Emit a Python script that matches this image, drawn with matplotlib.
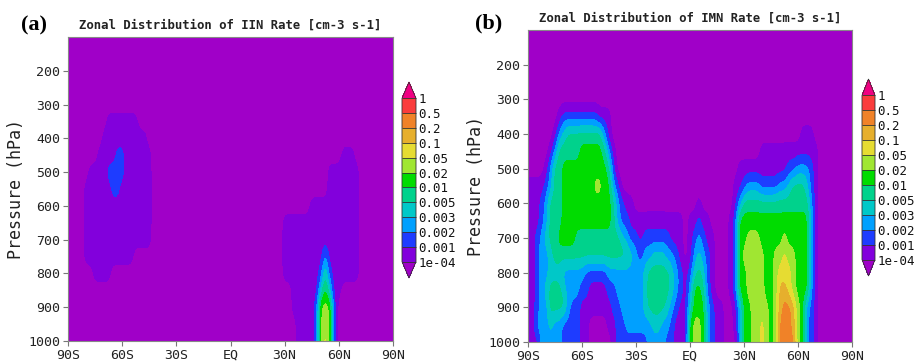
import numpy as np
import matplotlib
matplotlib.use("Agg")
import matplotlib.pyplot as plt
from matplotlib.colors import ListedColormap, BoundaryNorm

# colour bins of the rate (cm-3 s-1); one code per bin, lowest first
RATE_LEVELS = [1e-4, 0.001, 0.002, 0.003, 0.005, 0.01, 0.02, 0.05, 0.1, 0.2, 0.5, 1]
LEVEL_LABELS = ["1e-04", "0.001", "0.002", "0.003", "0.005", "0.01",
                "0.02", "0.05", "0.1", "0.2", "0.5", "1"]
BIN_CODES = ".vblctgyYoOrp"
BIN_COLORS = ["#a000c8", "#8200dc", "#1e3cff", "#00a0ff", "#00c8c8", "#00d28c",
              "#00dc00", "#a0e632", "#e6dc32", "#e6af2d", "#f08228", "#fa3c3c",
              "#f00082"]

# grid: latitude every 2.5 deg (90S..90N), pressure rows below
LATS = np.arange(-90, 90.1, 2.5)
PRESSURE = [100, 150, 200, 250, 300, 350, 400, 450, 500, 550,
            600, 650, 700, 750, 800, 850, 900, 950, 1000]
LAT_TICKS = [-90, -60, -30, 0, 30, 60, 90]
LAT_LABELS = ["90S", "60S", "30S", "EQ", "30N", "60N", "90N"]
P_TICKS = [200, 300, 400, 500, 600, 700, 800, 900, 1000]

# bin code read at each node, groups of 4 nodes = 10 deg
IIN_ROWS = [
    ".... .... .... .... .... .... .... .... .... .... .... .... .... .... .... .... .... .... .",
    ".... .... .... .... .... .... .... .... .... .... .... .... .... .... .... .... .... .... .",
    ".... .... .... .... .... .... .... .... .... .... .... .... .... .... .... .... .... .... .",
    ".... .... .... .... .... .... .... .... .... .... .... .... .... .... .... .... .... .... .",
    ".... .... .... .... .... .... .... .... .... .... .... .... .... .... .... .... .... .... .",
    ".... .... .vvv vvvv .... .... .... .... .... .... .... .... .... .... .... .... .... .... .",
    ".... .... vvvv vvvv vv.. .... .... .... .... .... .... .... .... .... .... .... .... .... .",
    ".... ...v vvvb bvvv vvv. .... .... .... .... .... .... .... .... .... .... .vvv .... .... .",
    ".... .vvv vbbb bvvv vvv. .... .... .... .... .... .... .... .... .... ..vv vvvv v... .... .",
    ".... vvvv vvbb vvvv vvv. .... .... .... .... .... .... .... .... .... ..vv vvvv v... .... .",
    ".... vvvv vvvv vvvv vvv. .... .... .... .... .... .... .... .... ..vv vvvv vvvv v... .... .",
    ".... vvvv vvvv vvvv vvv. .... .... .... .... .... .... .... vvvv vvvv vvvv vvvv v... .... .",
    ".... vvvv vvvv vvvv vvv. .... .... .... .... .... .... .... vvvv vvvv vvvv vvvv v... .... .",
    ".... vvvv vvvv vvv. .... .... .... .... .... .... .... .... vvvv vvvv vlvv vvvv v... .... .",
    ".... ..vv vv.. .... .... .... .... .... .... .... .... .... vvvv vvvv btbv vvvv v... .... .",
    ".... .... .... .... .... .... .... .... .... .... .... .... ..vv vvvv cgcv v... .... .... .",
    ".... .... .... .... .... .... .... .... .... .... .... .... ..vv vvvb yyyb .... .... .... .",
    ".... .... .... .... .... .... .... .... .... .... .... .... ...v vvvb yyyb .... .... .... .",
    ".... .... .... .... .... .... .... .... .... .... .... .... ...v vvvb yYyb .... .... .... .",
]

IMN_ROWS = [
    ".... .... .... .... .... .... .... .... .... .... .... .... .... .... .... .... .... .... .",
    ".... .... .... .... .... .... .... .... .... .... .... .... .... .... .... .... .... .... .",
    ".... .... .... .... .... .... .... .... .... .... .... .... .... .... .... .... .... .... .",
    ".... .... .... .... .... .... .... .... .... .... .... .... .... .... .... .... .... .... .",
    ".... .... .... .... .... .... .... .... .... .... .... .... .... .... .... .... .... .... .",
    ".... ...v bbbb bbbb vvv. .... .... .... .... .... .... .... .... .... .... .... .... .... .",
    ".... ..vl cttt tttt tlv. .... .... .... .... .... .... .... .... .... .... .vvv .... .... .",
    ".... .vlt tttt gggg gtlv .... .... .... .... .... .... .... .... vvvv vvvv vvvv v... .... .",
    ".... vltt gggg gggg ggtb .... .... .... .... .... .... ...v vvvv vvvv vvbb lllb v... .... .",
    "vvvv bltt gggg gggy yggl b... .... .... .... .... .... ..vv blll bbbb llct ttcb v... .... .",
    "vvvb lttt gggg gggg gggt lbvv .... .... .... ..v. .... ..vl tttt tttt tttt tttl v... .... .",
    "vvvb lttt gggg gggg gggt lbbv vvvv vvvv vvv. vvbv v... .vbg gggg gggg gggg gggl v... .... .",
    "vvbl cttg gggt tttt tttt tclb bvbb bbbb vvv. vblb vv.. .vbg gyyy gggg gygg gggl v... .... .",
    "vvbl lctt tttt tttt tttt tttc lbll cccl lbv. vlcl bv.. .vbg yyyy yggy yYyy gggl v... .... .",
    "vvbl lccc llll lbbb bbll llll llct tttt clbv bctc bv.. .vbg gyyy yggy YYYy gggl v... .... .",
    "vvbl cttt clll bbvv vvbb llll llct tttt clbv lggt bv.. .vbg gyyy yggy ooYy gggl v... .... .",
    "vvbl lttt tlbb vvvv vvvb blll llct tttc lbvv cggg lbvv ..vl ggyy yygy oOOo yglb v... .... .",
    "vvll lcll bbbb vv.. ..vv bbll llll ccll bvvv gyyg lbvv ..vl ggyy Yygy OOOo yglb v... .... .",
    "vvvl llll bbbb vv.. ...v bbbb bbbl lllb bvvv gyyg lbvv ...l ggyy Yygy OOOO yglb v... .... .",
]

MONO = "DejaVu Sans Mono"
BOUNDS = np.arange(0.5, len(RATE_LEVELS), 1.0)


def decode(rows):
    field = []
    for row in rows:
        codes = row.replace(" ", "")
        assert len(codes) == len(LATS), row
        field.append([BIN_CODES.index(c) for c in codes])
    return np.array(field, dtype=float)


cmap = ListedColormap(BIN_COLORS[1:-1])
cmap.set_under(BIN_COLORS[0])
cmap.set_over(BIN_COLORS[-1])
norm = BoundaryNorm(BOUNDS, cmap.N)


def draw_panel(ax, cax, rows, title, title_y):
    dlat = (LATS[1] - LATS[0]) / 2
    dp = (PRESSURE[1] - PRESSURE[0]) / 2
    im = ax.imshow(decode(rows), cmap=cmap, norm=norm, aspect="auto",
                   origin="upper", interpolation="bicubic",
                   interpolation_stage="data",
                   extent=[LATS[0] - dlat, LATS[-1] + dlat,
                           PRESSURE[-1] + dp, PRESSURE[0] - dp])
    ax.set_xlim(-90, 90)
    ax.set_ylim(1000, 100)
    ax.set_xticks(LAT_TICKS)
    ax.set_xticklabels(LAT_LABELS)
    ax.set_yticks(P_TICKS)
    ax.tick_params(direction="out", length=3.5, width=0.8, color="#777777",
                   labelsize=9.5, pad=2, labelcolor="#222222")
    for lab in ax.get_xticklabels() + ax.get_yticklabels():
        lab.set_family(MONO)
    for sp in ax.spines.values():
        sp.set_color("#888888")
        sp.set_linewidth(0.8)
    ax.set_ylabel("Pressure (hPa)", family=MONO, fontsize=12, color="#222222")
    ax.yaxis.set_label_coords(-0.132, 0.5)

    pos = ax.get_position()
    fig.text((pos.x0 + pos.x1) / 2, title_y, title, family=MONO,
             fontsize=8.8, fontweight="bold", color="#222222",
             ha="center", va="center")

    cb = fig.colorbar(im, cax=cax, ticks=BOUNDS, extend="both",
                      extendfrac=0.1, drawedges=True)
    cb.ax.set_yticklabels(LEVEL_LABELS)
    cb.ax.tick_params(length=0, pad=1.5, labelsize=9, labelcolor="#111111")
    for lab in cb.ax.get_yticklabels():
        lab.set_family(MONO)
    cb.outline.set_linewidth(0.6)
    cb.outline.set_edgecolor("#333333")
    cb.dividers.set_linewidth(0.6)
    cb.dividers.set_color("#333333")


fig = plt.figure(figsize=(9.2, 3.64), dpi=100)
W, H = 920.0, 364.0
ax_a = fig.add_axes([68 / W, 1 - 341 / H, 325 / W, 304 / H])
ax_b = fig.add_axes([528 / W, 1 - 342 / H, 324 / W, 312 / H])
cax_a = fig.add_axes([402 / W, 1 - 278 / H, 14 / W, 196 / H])
cax_b = fig.add_axes([862 / W, 1 - 276 / H, 13 / W, 197 / H])

draw_panel(ax_a, cax_a, IIN_ROWS, "Zonal Distribution of IIN Rate [cm-3 s-1]", 1 - 25 / H)
draw_panel(ax_b, cax_b, IMN_ROWS, "Zonal Distribution of IMN Rate [cm-3 s-1]", 1 - 18 / H)

fig.text(34 / W, 1 - 25 / H, "(a)", family="Liberation Serif", fontweight="bold",
         fontsize=16, ha="center", va="center")
fig.text(489 / W, 1 - 23 / H, "(b)", family="Liberation Serif", fontweight="bold",
         fontsize=16, ha="center", va="center")

fig.savefig("out.png", dpi=100, facecolor="white")
